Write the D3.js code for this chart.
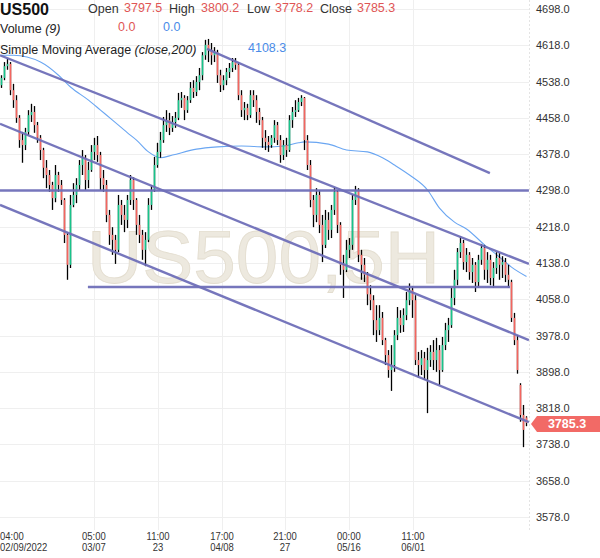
<!DOCTYPE html>
<html><head><meta charset="utf-8">
<script src="https://cdn.jsdelivr.net/npm/d3@7"></script>
<style>body{margin:0;background:#fff}svg{display:block;font-family:"Liberation Sans",Arial,sans-serif}</style>
</head><body><svg id="c" width="600" height="558"></svg>
<script>
const candleOpen = [4530,4546,4572,4577,4519,4497,4458,4409,4398,4427,
4464,4471,4442,4414,4387,4348,4332,4310,4281,4332,
4310,4277,4200,4134,4266,4288,4310,4354,4370,4321,
4343,4383,4398,4376,4325,4310,4244,4200,4189,4167,
4266,4244,4233,4277,4321,4277,4222,4200,4167,4189,
4266,4299,4354,4383,4409,4442,4453,4436,4449,4458,
4497,4502,4475,4497,4524,4515,4537,4552,4596,4619,
4608,4596,4603,4552,4530,4541,4559,4568,4581,4575,
4508,4475,4480,4464,4508,4497,4471,4453,4414,4405,
4398,4414,4442,4409,4376,4398,4387,4453,4471,4475,
4493,4502,4409,4354,4277,4244,4288,4222,4178,4233,
4211,4255,4295,4222,4134,4123,4167,4178,4277,4299,
4156,4134,4112,4069,4056,4012,3990,4017,3968,3935,
3902,3913,3979,4017,4001,4023,4056,4078,4056,3924,
3913,3928,3902,3924,3942,3924,3946,3902,3957,3990,
4001,4061,4101,4162,4182,4140,4156,4118,4134,4096,
4145,4171,4123,4145,4105,4127,4149,4134,4140,4112,
4096,4017,3968,3869,3803,3797.5];
const candleClose = [4546,4572,4577,4519,4497,4458,4409,4398,4427,4464,
4471,4442,4414,4387,4348,4332,4310,4281,4332,4310,
4277,4200,4134,4266,4288,4310,4354,4370,4321,4343,
4383,4398,4376,4325,4310,4244,4200,4189,4167,4266,
4244,4233,4277,4321,4277,4222,4200,4167,4189,4266,
4299,4354,4383,4409,4442,4453,4436,4449,4458,4497,
4502,4475,4497,4524,4515,4537,4552,4596,4619,4608,
4596,4603,4552,4530,4541,4559,4568,4581,4575,4508,
4475,4480,4464,4508,4497,4471,4453,4414,4405,4398,
4414,4442,4409,4376,4398,4387,4453,4471,4475,4493,
4502,4409,4354,4277,4244,4288,4222,4178,4233,4211,
4255,4295,4222,4134,4123,4167,4178,4277,4299,4156,
4134,4112,4069,4056,4012,3990,4017,3968,3935,3902,
3913,3979,4017,4001,4023,4056,4078,4056,3924,3913,
3928,3902,3924,3942,3924,3946,3902,3957,3990,4001,
4061,4101,4162,4182,4140,4156,4118,4134,4096,4145,
4171,4123,4145,4105,4127,4149,4134,4140,4112,4101,
4017,3968,3902,3803,3770,3785.3];
const candleHigh = [4552,4581,4588,4581,4533,4508,4464,4427,4436,4475,
4489,4484,4449,4420,4392,4365,4343,4317,4354,4339,
4321,4281,4205,4288,4314,4325,4365,4387,4376,4361,
4398,4414,4418,4383,4343,4321,4255,4217,4200,4288,
4277,4266,4288,4332,4327,4281,4244,4211,4206,4281,
4310,4372,4403,4427,4460,4475,4469,4462,4471,4513,
4515,4508,4506,4537,4541,4550,4568,4603,4630,4632,
4623,4614,4608,4564,4552,4568,4579,4590,4590,4581,
4519,4493,4489,4519,4519,4508,4480,4460,4431,4418,
4420,4453,4449,4420,4409,4414,4464,4482,4497,4502,
4508,4504,4420,4365,4288,4303,4299,4244,4255,4250,
4266,4305,4299,4228,4156,4189,4193,4288,4308,4303,
4167,4149,4118,4089,4067,4045,4045,4030,3973,3946,
3957,3990,4041,4034,4038,4074,4093,4087,4067,3942,
3946,3942,3951,3957,3968,3973,3957,3975,4006,4017,
4083,4123,4171,4197,4189,4171,4162,4149,4140,4156,
4180,4178,4162,4156,4140,4162,4160,4153,4149,4134,
4101,4028,3979,3873,3825,3800.2];
const candleLow = [4524,4541,4564,4508,4480,4447,4392,4359,4387,4420,
4449,4425,4403,4365,4325,4303,4295,4255,4272,4295,
4266,4182,4101,4127,4261,4270,4299,4332,4299,4303,
4339,4365,4361,4299,4295,4228,4178,4156,4136,4162,
4222,4206,4215,4266,4255,4200,4182,4145,4131,4184,
4255,4295,4348,4370,4403,4427,4420,4427,4436,4453,
4480,4453,4469,4491,4502,4506,4519,4541,4586,4581,
4575,4581,4535,4515,4519,4530,4546,4559,4564,4497,
4460,4453,4453,4458,4482,4447,4442,4392,4387,4383,
4392,4403,4398,4359,4365,4372,4383,4436,4460,4471,
4484,4387,4343,4261,4217,4228,4204,4140,4171,4189,
4193,4244,4204,4112,4061,4118,4149,4167,4266,4140,
4101,4096,4045,4034,3979,3964,3979,3957,3913,3885,
3856,3898,3968,3984,3986,4012,4045,4017,3913,3885,
3891,3880,3807,3909,3902,3898,3869,3898,3946,3964,
3995,4045,4089,4149,4123,4118,4101,4094,4074,4083,
4134,4101,4094,4089,4083,4114,4101,4105,4096,4083,
4008,3957,3894,3788,3732,3778.2];

// 200-period SMA, read at selected bar indices
const smaIndex = [0,4,13,19,23,29,33,37,42,45,49,53,57,65,72,80,88,94,99,101,109,115,122,127,131,136,142,146,151,155,161,166,170,175];
const smaValue = [4596,4596,4581,4552,4526,4497,4475,4453,4425,4409,4383,4370,4376,4389,4394,4396,4394,4396,4403,4405,4400,4387,4383,4370,4354,4332,4299,4259,4228,4213,4178,4151,4129,4108.3];

// drawn trend lines: [startIndex, startPrice, endIndex, endPrice]
const trendLines = [
  [68.5, 4610, 162.8, 4336],
  [-0.5, 4596, 175.8, 4136],
  [-0.5, 4445, 175.8, 3968],
  [-0.5, 4266, 175.8, 3787],
  [-0.5, 4298, 175.8, 4298],
  [28.8, 4085, 169.5, 4085]
];

const priceTicks = [4698,4618,4538,4458,4378,4298,4218,4138,4058,3978,3898,3818,3738,3658,3578];
const timeTickIndex = [0, 30.8, 52.2, 73.5, 94.5, 115.8, 137.2];
const timeTickTop = ["04:00","05:00","11:00","17:00","21:00","00:00","11:00"];
const timeTickBottom = ["02/09/2022","03/07","23","04/08","27","05/16","06/01"];

const header = {symbol:"US500", open:"3797.5", high:"3800.2", low:"3778.2", close:"3785.3"};
const lastPrice = 3785.3;
const smaLast = "4108.3";

const svg = d3.select("#c");
const plotRight = 529;
const n = candleClose.length;
const x = d3.scaleLinear().domain([0, n-1]).range([1.5, 1.5 + 3*(n-1)]);
const y = d3.scaleLinear().domain([3578, 4698]).range([517, 9]);

// grid
const grid = svg.append("g");
grid.selectAll("line.h").data(priceTicks).join("line")
  .attr("x1",0).attr("x2",plotRight).attr("y1",d=>Math.round(y(d))+0.5).attr("y2",d=>Math.round(y(d))+0.5)
  .attr("stroke","#efefef");
grid.selectAll("line.v").data(timeTickIndex.slice(1)).join("line")
  .attr("x1",d=>Math.round(x(d))+0.5).attr("x2",d=>Math.round(x(d))+0.5).attr("y1",0).attr("y2",530)
  .attr("stroke","#efefef");
svg.append("line").attr("x1",plotRight+0.5).attr("x2",plotRight+0.5).attr("y1",0).attr("y2",530)
  .attr("stroke","#e4e4e4").attr("stroke-dasharray","2,2");

// watermark
svg.append("text").attr("x",87).attr("y",283).attr("font-size",74)
  .attr("textLength",353).attr("lengthAdjust","spacingAndGlyphs")
  .attr("fill","#ede9df").attr("stroke","#e3ddcf").attr("stroke-width",0.8)
  .text("US500,5H");

// SMA
const sma = smaIndex.map((d,i)=>[d, smaValue[i]]);
svg.append("path").datum(sma)
  .attr("d", d3.line().x(d=>x(d[0])).y(d=>y(d[1])).curve(d3.curveMonotoneX))
  .attr("fill","none").attr("stroke","#6aa6f2").attr("stroke-width",1.1);

// candles
const cg = svg.append("g");
const idx = d3.range(n);
cg.selectAll("line.w").data(idx).join("line")
  .attr("x1",i=>x(i)).attr("x2",i=>x(i))
  .attr("y1",i=>y(candleHigh[i])).attr("y2",i=>y(candleLow[i]))
  .attr("stroke","#000").attr("stroke-width",1.3);
cg.selectAll("rect").data(idx).join("rect")
  .attr("x",i=>x(i)-0.8).attr("width",1.6)
  .attr("y",i=>y(Math.max(candleOpen[i],candleClose[i])))
  .attr("height",i=>Math.max(1,Math.abs(y(candleOpen[i])-y(candleClose[i]))))
  .attr("fill",i=>candleClose[i]>=candleOpen[i]?"#18c48a":"#f4655f");

// trend lines
svg.selectAll("line.t").data(trendLines).join("line")
  .attr("x1",d=>x(d[0])).attr("y1",d=>y(d[1])).attr("x2",d=>x(d[2])).attr("y2",d=>y(d[3]))
  .attr("stroke","#6f6fb8").attr("stroke-width",2.4).attr("stroke-opacity",0.95);

// right axis
const ax = svg.append("g").attr("transform",`translate(${plotRight},0)`)
  .call(d3.axisRight(y).tickValues(priceTicks).tickFormat(d=>d.toFixed(1)).tickSize(0).tickPadding(7));
ax.select(".domain").remove();
ax.selectAll("text").attr("font-size",11).attr("fill","#333").attr("font-family","Liberation Sans, Arial, sans-serif");

// price tag
const ty = y(lastPrice) + 1;
svg.append("path")
  .attr("d",`M531,${ty} L537,${ty-8} L600,${ty-8} L600,${ty+8} L537,${ty+8} Z`)
  .attr("fill","#f26a66");
svg.append("text").attr("x",567).attr("y",ty+4.5).attr("text-anchor","middle")
  .attr("font-size",12.5).attr("font-weight","bold").attr("fill","#fff").text(lastPrice.toFixed(1));

// time axis (slightly condensed labels)
const tg = svg.append("g").attr("font-size",11).attr("fill","#333");
timeTickIndex.forEach((d,i)=>{
  const anchor = i===0 ? "start" : "middle";
  const xx = i===0 ? 0 : x(d);
  [[timeTickTop[i],540],[timeTickBottom[i],551]].forEach(([t,yy])=>{
    const el = tg.append("text").attr("x",xx).attr("y",yy).attr("text-anchor",anchor).text(t);
    const len = el.node().getComputedTextLength();
    el.attr("textLength",len*0.86).attr("lengthAdjust","spacingAndGlyphs");
  });
});

// header legend
const hg = svg.append("g");
hg.append("text").attr("x",0).attr("y",15).attr("font-size",16).attr("font-weight","bold").attr("fill","#111").text(header.symbol);
const lab = [["Open",88,header.open,124],["High",169,header.high,201],["Low",247,header.low,275],["Close",320,header.close,357]];
lab.forEach(l=>{
  hg.append("text").attr("x",l[1]).attr("y",13).attr("font-size",12.5).attr("fill","#333").text(l[0]);
  hg.append("text").attr("x",l[3]).attr("y",11.5).attr("font-size",12.5).attr("fill","#e05555").text(l[2]);
});
const v = hg.append("text").attr("x",0).attr("y",33).attr("font-size",12.5).attr("fill","#222");
v.append("tspan").text("Volume ");
v.append("tspan").attr("font-style","italic").text("(9)");
hg.append("text").attr("x",118).attr("y",31).attr("font-size",12.5).attr("fill","#e05555").text("0.0");
hg.append("text").attr("x",163).attr("y",31).attr("font-size",12.5).attr("fill","#4a8be8").text("0.0");
const s = hg.append("text").attr("x",0).attr("y",54).attr("font-size",12.5).attr("fill","#222");
s.append("tspan").text("Simple Moving Average ");
s.append("tspan").attr("font-style","italic").text("(close,200)");
hg.append("text").attr("x",248).attr("y",52).attr("font-size",12.5).attr("fill","#4a8be8").text(smaLast);
</script></body></html>
